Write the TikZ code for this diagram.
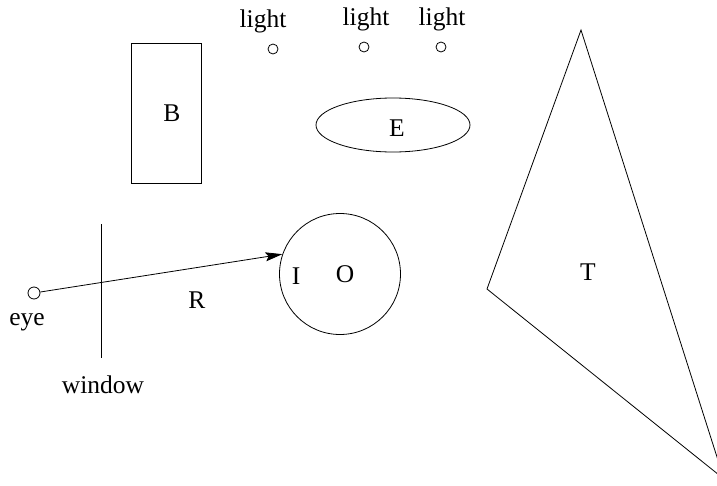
\documentclass[tikz,border=0pt]{standalone}
\usepackage{fontspec}
\setmainfont{Liberation Serif}
\usetikzlibrary{arrows.meta,shapes.geometric}
\begin{document}
\begin{tikzpicture}[x=1pt,y=-1pt,line width=0.8pt,
  lbl/.style={inner sep=0pt,font=\fontsize{25.5}{30}\selectfont},
  lamp/.style={circle,draw,minimum size=10pt,inner sep=0pt},
  shapebox/.style={draw,inner sep=0pt}]
\useasboundingbox (0,0) rectangle (717,485);
\clip (0,0) rectangle (717,485);
% B box
\node[shapebox,minimum width=70pt,minimum height=140pt] (bbox) at (166,113) {};
\node[lbl] (blbl) at (172,113) {B};
% lights
\node[lbl] (l1) at (263,21) {light};
\node[lbl] (l2) at (366,19) {light};
\node[lbl] (l3) at (442,19) {light};
\node[lamp] (c1) at (273,49) {};
\node[lamp] (c2) at (364,47) {};
\node[lamp] (c3) at (441,47) {};
% E ellipse
\node[ellipse,draw,minimum width=154pt,minimum height=54pt,inner sep=0pt] (ell) at (393,125) {};
\node[lbl] (elbl) at (397,128) {E};
% window
\coordinate (wtop) at (101,224);
\coordinate (wbot) at (101,358);
\draw (wtop) -- (wbot);
\node[lbl] (wlbl) at (103,385) {window};
% eye
\node[circle,draw,minimum size=12pt,inner sep=0pt] (eye) at (34,293) {};
\node[lbl] (eyelbl) at (27,322) {eye};
% object
\node[circle,draw,minimum size=121pt,inner sep=0pt] (obj) at (340,274) {};
\node[lbl] (ilbl) at (296,276) {I};
\node[lbl] (olbl) at (345,274) {O};
\node[lbl] (rlbl) at (197,300) {R};
\draw[-{Stealth[length=17pt,width=9pt,inset=3pt]}] (eye.9) -- (obj.161);
% triangle T
\coordinate (ta) at (581,30);
\coordinate (tb) at (487,289);
\coordinate (tc) at (724,479);
\draw (ta) -- (tb) -- (tc) -- cycle;
\node[lbl] (tlbl) at (588,272) {T};
\end{tikzpicture}
\end{document}
